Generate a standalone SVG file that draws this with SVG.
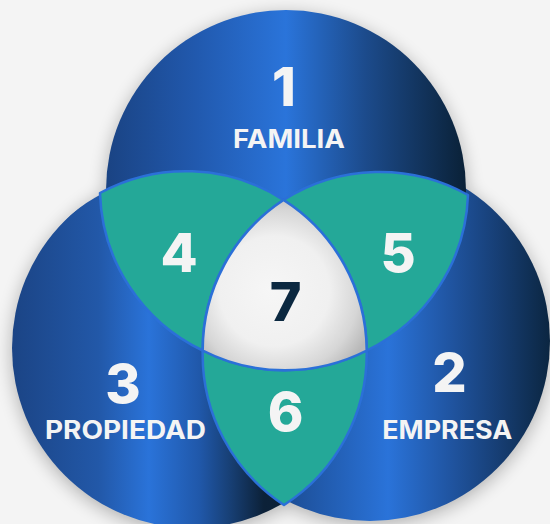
<svg xmlns="http://www.w3.org/2000/svg" width="550" height="524" viewBox="0 0 550 524">
<defs>
<style>
.num{font-family:Inter,"Open Sans","DejaVu Sans",sans-serif;font-weight:800;font-size:54px;fill:#f4f4f4;text-anchor:middle}
.lbl{font-family:Inter,"Open Sans","DejaVu Sans",sans-serif;font-weight:700;font-size:25px;fill:#f4f4f4;text-anchor:middle}
.lens{fill:#24a898;stroke:#2b70d8;stroke-width:2.5;stroke-linejoin:round}
</style>
<linearGradient id="gT" gradientUnits="userSpaceOnUse" x1="106" y1="0" x2="466" y2="0">
<stop offset="0" stop-color="#1a4383"/>
<stop offset="0.25" stop-color="#2159ae"/>
<stop offset="0.5" stop-color="#2a74da"/>
<stop offset="0.72" stop-color="#1c4b8c"/>
<stop offset="1" stop-color="#0a2137"/>
</linearGradient>
<linearGradient id="gL" gradientUnits="userSpaceOnUse" x1="12" y1="0" x2="372" y2="0">
<stop offset="0" stop-color="#1b4485"/>
<stop offset="0.24" stop-color="#2258a8"/>
<stop offset="0.38" stop-color="#2a73d9"/>
<stop offset="0.52" stop-color="#2058aa"/>
<stop offset="0.61" stop-color="#173e72"/>
<stop offset="0.7" stop-color="#0c2138"/>
<stop offset="1" stop-color="#0a1d30"/>
</linearGradient>
<linearGradient id="gR" gradientUnits="userSpaceOnUse" x1="190" y1="0" x2="550" y2="0">
<stop offset="0" stop-color="#143a70"/>
<stop offset="0.28" stop-color="#1d4f98"/>
<stop offset="0.55" stop-color="#2a73d9"/>
<stop offset="0.72" stop-color="#2055a2"/>
<stop offset="0.85" stop-color="#173f76"/>
<stop offset="1" stop-color="#0b2641"/>
</linearGradient>
<radialGradient id="g7" gradientUnits="userSpaceOnUse" cx="278" cy="292" r="100" fx="270" fy="290">
<stop offset="0" stop-color="#f6f6f6"/>
<stop offset="0.55" stop-color="#f0f0f0"/>
<stop offset="0.82" stop-color="#d6d6d6"/>
<stop offset="1" stop-color="#b8b8b8"/>
</radialGradient>
<clipPath id="clipL">
<circle cx="186.7" cy="352.5" r="180"/>
</clipPath>
<filter id="blur" x="-20%" y="-20%" width="140%" height="140%">
<feGaussianBlur stdDeviation="9"/>
</filter>
</defs>
<rect width="550" height="524" fill="#f4f4f4"/>
<g id="shadows" filter="url(#blur)" fill="#000" opacity="0.28">
<circle cx="192" cy="352" r="180"/>
<circle cx="370" cy="345" r="180"/>
<circle cx="286" cy="194" r="180"/>
</g>
<g id="circle-2">
<circle cx="370" cy="341" r="180" fill="url(#gR)"/>
</g>
<g id="circle-3">
<circle cx="192" cy="348" r="180" fill="url(#gL)" clip-path="url(#clipL)"/>
</g>
<g id="circle-1">
<circle cx="286" cy="190" r="180" fill="url(#gT)"/>
</g>
<g id="lens-4">
<path class="lens" d="M100,193 A180,180 0 0 1 283.5,200 A180,180 0 0 0 202.7,350.5 A180,180 0 0 1 100,193 Z"/>
</g>
<g id="lens-5">
<path class="lens" d="M468,195 A180,180 0 0 0 283.5,200 A180,180 0 0 1 366.7,350.5 A180,180 0 0 0 468,195 Z"/>
</g>
<g id="lens-6">
<path class="lens" d="M202.7,350.5 A180,180 0 0 0 366.7,350.5 A180,180 0 0 1 284,505 A180,180 0 0 1 202.7,350.5 Z"/>
</g>
<g id="center-7">
<path d="M283.5,200 A180,180 0 0 1 366.7,350.5 A180,180 0 0 1 202.7,350.5 A180,180 0 0 1 283.5,200 Z" fill="url(#g7)" stroke="#2b70d8" stroke-width="2.5" stroke-linejoin="round"/>
</g>
<g id="labels">
<text class="num" x="284" y="106">1</text>
<text class="lbl" x="289" y="148" textLength="112" lengthAdjust="spacingAndGlyphs">FAMILIA</text>
<text class="num" x="179" y="271.5">4</text>
<text class="num" x="398" y="272">5</text>
<text class="num" x="285.5" y="320.5" style="fill:#0b2840">7</text>
<text class="num" x="285.5" y="431">6</text>
<text class="num" x="123" y="402.5">3</text>
<text class="lbl" x="125.5" y="438.5" textLength="161" lengthAdjust="spacingAndGlyphs">PROPIEDAD</text>
<text class="num" x="449.5" y="392">2</text>
<text class="lbl" x="447.3" y="439" textLength="130" lengthAdjust="spacingAndGlyphs">EMPRESA</text>
</g>
</svg>
